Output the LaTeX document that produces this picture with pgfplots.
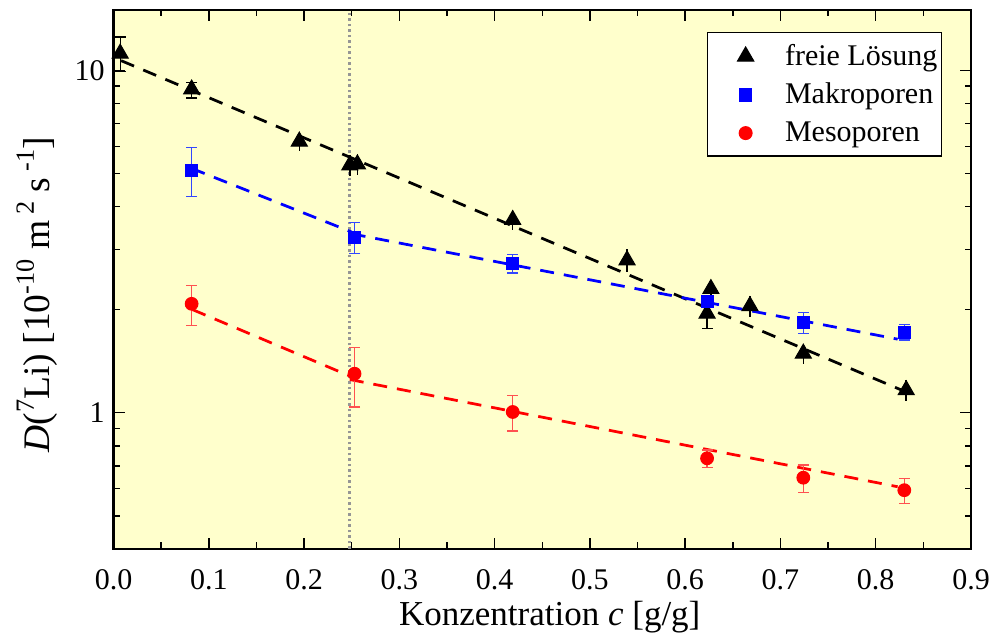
\documentclass[border=0pt]{standalone}
\usepackage{fontspec}
\setmainfont{Liberation Serif}
\usepackage{pgfplots}
\pgfplotsset{compat=1.18}
\definecolor{bgyellow}{RGB}{255,255,204}
\definecolor{errred}{RGB}{255,80,80}
\definecolor{errblue}{RGB}{50,70,255}
\definecolor{dotgray}{RGB}{150,150,150}
\newcommand\sups[1]{\raisebox{0.42em}{\fontsize{10.5}{11}\selectfont #1}}

% freie Loesung, points with capped error bars
\pgfplotstableread{
x      y     ep    em
0.007  11.2  1.30  1.30
0.082  8.80  0.40  0.50
0.623  1.95  0.19  0.19
}\freicap
% freie Loesung, points with short error bars
\pgfplotstableread{
x      y     ep    em
0.195  6.20  0.40  0.40
0.248  5.28  0.36  0.36
0.256  5.32  0.36  0.36
0.419  3.66  0.25  0.25
0.539  2.79  0.22  0.22
0.627  2.30  0.10  0.10
0.668  2.05  0.14  0.14
0.724  1.49  0.10  0.10
0.832  1.165 0.08  0.08
}\freistem
% Makroporen
\pgfplotstableread{
x      y     ep    em
0.082  5.09  0.85  0.82
0.253  3.24  0.35  0.33
0.419  2.73  0.17  0.17
0.623  2.11  0.08  0.08
0.724  1.835 0.13  0.13
0.830  1.72  0.09  0.09
}\makro
% Mesoporen
\pgfplotstableread{
x      y     ep    em
0.082  2.08  0.27  0.28
0.253  1.30  0.25  0.26
0.419  1.005 0.12  0.12
0.623  0.736 0.043 0.043
0.724  0.646 0.058 0.060
0.830  0.594 0.050 0.050
}\meso

\begin{document}
\begin{tikzpicture}
\begin{semilogyaxis}[
  scale only axis,
  width=343pt, height=215.6pt,
  xmin=0, xmax=0.9,
  ymin=0.4, ymax=15,
  axis background/.style={fill=bgyellow},
  axis line style={line width=0.9pt},
  xtick={0,0.1,0.2,0.3,0.4,0.5,0.6,0.7,0.8,0.9},
  xticklabels={\textrm{0.0},\textrm{0.1},\textrm{0.2},\textrm{0.3},\textrm{0.4},
    \textrm{0.5},\textrm{0.6},\textrm{0.7},\textrm{0.8},\textrm{0.9}},
  minor xtick={0.05,0.15,0.25,0.35,0.45,0.55,0.65,0.75,0.85},
  ytick={1,10}, yticklabels={\textrm{1},\textrm{10}},
  minor ytick={0.4,0.5,0.6,0.7,0.8,0.9,2,3,4,5,6,7,8,9},
  tick align=inside,
  major tick length=4.4pt, minor tick length=2.6pt,
  tick style={line width=0.6pt, black},
  ticklabel style={font=\fontsize{12}{14}\selectfont},
  xticklabel style={yshift=-4.8pt},
  xlabel style={font=\fontsize{14}{16}\selectfont, yshift=2.4pt, xshift=3pt},
  ylabel style={font=\fontsize{15}{17}\selectfont, xshift=-6pt},
  xlabel={Konzentration \textit{c} [g/g]},
  ylabel={\textit{D}(\sups{7}Li) [10\sups{-10} m\,\sups{2} s\,\sups{-1}]},
  legend style={at={(0.966,0.959)}, anchor=north east, draw=black, line width=0.5pt,
    fill=white, font=\fontsize{12}{14}\selectfont, inner xsep=0pt, inner ysep=3pt,
    nodes={inner sep=1.5pt}, row sep=2.6pt},
  legend cell align=left,
  legend image code/.code={\path (0pt,0pt) (29pt,0pt); \draw[#1] plot coordinates {(15pt,0pt)};},
]
% vertical marker at c = 0.25
\addplot[dotgray, line width=1.2pt, dash pattern=on 1.1pt off 1.1pt, forget plot]
  coordinates {(0.248,0.4) (0.248,15)};
% fit lines
\addplot[black, line width=1.1pt, dash pattern=on 5.6pt off 4pt, forget plot]
  coordinates {(0.008,10.67) (0.835,1.14)};
\addplot[blue, line width=1.1pt, dash pattern=on 5.6pt off 4pt, forget plot]
  coordinates {(0.082,5.17) (0.250,3.37)};
\addplot[blue, line width=1.1pt, dash pattern=on 5.6pt off 4pt, forget plot]
  coordinates {(0.250,3.33) (0.823,1.64)};
\addplot[red, line width=1.1pt, dash pattern=on 5.6pt off 4pt, forget plot]
  coordinates {(0.083,2.00) (0.248,1.28)};
\addplot[red, line width=1.1pt, dash pattern=on 5.6pt off 4pt, forget plot]
  coordinates {(0.248,1.25) (0.823,0.608)};
% data
\addplot[only marks, mark=triangle*, mark size=3.7pt, black,
  error bars/.cd, y dir=both, y explicit,
  error bar style={line width=0.5pt, black},
  error mark options={rotate=90, mark size=2.2pt, line width=0.5pt, black}]
  table[x=x, y=y, y error plus=ep, y error minus=em] {\freicap};
\addlegendentry{freie Lösung}
\addplot[only marks, mark=triangle*, mark size=3.7pt, black, forget plot,
  error bars/.cd, y dir=both, y explicit, error mark=none,
  error bar style={line width=0.6pt, black}]
  table[x=x, y=y, y error plus=ep, y error minus=em] {\freistem};
\addplot[only marks, mark=square*, mark size=2.4pt, blue,
  error bars/.cd, y dir=both, y explicit,
  error bar style={line width=0.5pt, errblue},
  error mark options={rotate=90, mark size=2.2pt, line width=0.5pt, errblue}]
  table[x=x, y=y, y error plus=ep, y error minus=em] {\makro};
\addlegendentry{Makroporen}
\addplot[only marks, mark=*, mark size=2.55pt, red,
  error bars/.cd, y dir=both, y explicit,
  error bar style={line width=0.5pt, errred},
  error mark options={rotate=90, mark size=2.2pt, line width=0.5pt, errred}]
  table[x=x, y=y, y error plus=ep, y error minus=em] {\meso};
\addlegendentry{Mesoporen}
\end{semilogyaxis}
\pgfresetboundingbox
\path[use as bounding box] ([xshift=-45.4pt,yshift=-35.2pt]current axis.south west)
  rectangle ([xshift=9.2pt,yshift=4pt]current axis.north east);
\end{tikzpicture}
\end{document}
